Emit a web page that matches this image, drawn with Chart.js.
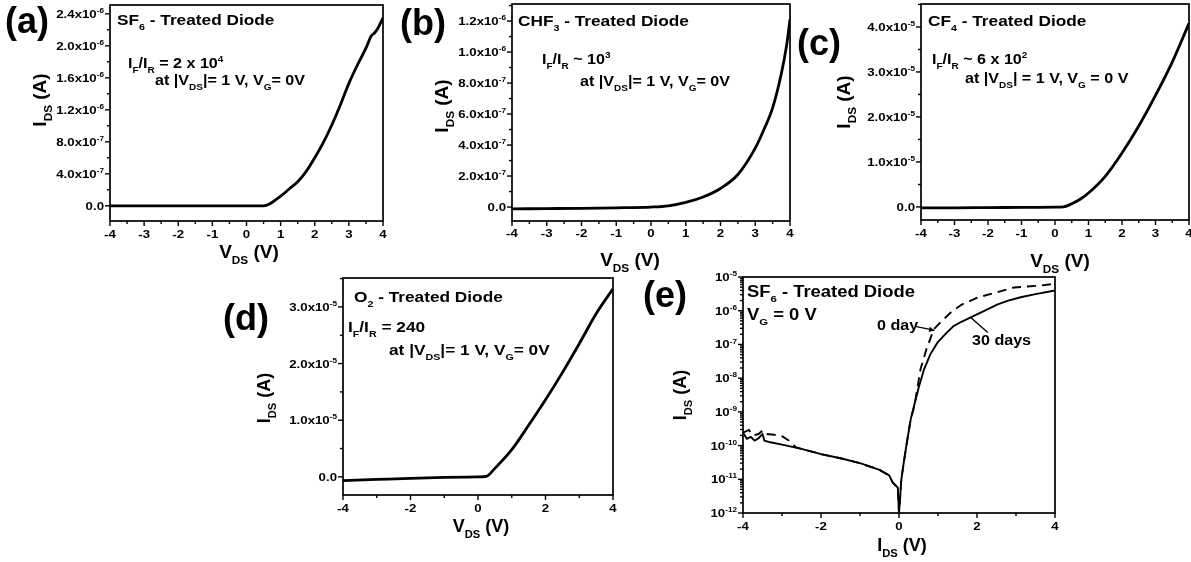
<!DOCTYPE html>
<html>
<head>
<meta charset="utf-8">
<script src="https://cdn.jsdelivr.net/npm/chart.js@4.4.1/dist/chart.umd.min.js"></script>
<style>
  html, body { margin: 0; padding: 0; background: #fff; }
  #fig { position: relative; width: 1191px; height: 562px; overflow: hidden; }
  #fig canvas { position: absolute; left: 0; top: 0; }
</style>
</head>
<body>
<div id="fig">
  <canvas id="panelA" width="1191" height="562"></canvas>
  <canvas id="panelB" width="1191" height="562"></canvas>
  <canvas id="panelC" width="1191" height="562"></canvas>
  <canvas id="panelD" width="1191" height="562"></canvas>
  <canvas id="panelE" width="1191" height="562"></canvas>
</div>
<script>
// (a) SF6 treated diode, linear I-V
const vA = [-4, -3, -2, -1, 0, 0.5, 0.7, 0.9, 1.0, 1.25, 1.5, 1.75, 2.0, 2.25, 2.5, 2.75, 3.0, 3.25, 3.5, 3.65, 3.75, 3.85, 4.0];
const iA = [0, 0, 0, 0, 0, 0, 0.03e-6, 0.09e-6, 0.12e-6, 0.21e-6, 0.30e-6, 0.43e-6, 0.60e-6, 0.79e-6, 1.01e-6, 1.26e-6, 1.53e-6, 1.76e-6, 1.97e-6, 2.12e-6, 2.16e-6, 2.22e-6, 2.35e-6];

// (b) CHF3 treated diode
const vB = [-4, -3, -2, -1, 0, 0.5, 1.0, 1.5, 2.0, 2.5, 3.0, 3.25, 3.5, 3.75, 3.9, 4.0];
const iB = [-0.012e-6, -0.010e-6, -0.008e-6, -0.005e-6, 0, 0.008e-6, 0.03e-6, 0.065e-6, 0.12e-6, 0.21e-6, 0.38e-6, 0.50e-6, 0.64e-6, 0.86e-6, 1.04e-6, 1.21e-6];

// (c) CF4 treated diode
const vC = [-4, -3, -2, -1, 0, 0.25, 0.5, 0.75, 1.0, 1.5, 2.0, 2.5, 3.0, 3.5, 4.0];
const iC = [-0.02e-5, -0.02e-5, -0.015e-5, -0.01e-5, -0.005e-5, 0, 0.07e-5, 0.17e-5, 0.31e-5, 0.68e-5, 1.20e-5, 1.80e-5, 2.48e-5, 3.22e-5, 4.08e-5];

// (d) O2 treated diode
const vD = [-4, -3, -2, -1, 0, 0.25, 0.5, 1.0, 1.5, 2.0, 2.5, 3.0, 3.5, 4.0];
const iD = [-0.065e-5, -0.045e-5, -0.025e-5, -0.01e-5, 0, 0.01e-5, 0.15e-5, 0.48e-5, 0.91e-5, 1.36e-5, 1.84e-5, 2.35e-5, 2.88e-5, 3.32e-5];

// (e) SF6 treated diode, log scale: after 30 days (solid) and fresh (dashed)
const vE30 = [-4.0, -3.9, -3.8, -3.7, -3.6, -3.5, -3.45, -3.3, -3.0, -2.5, -2.0, -1.5, -1.0, -0.5, -0.25, -0.16, -0.03, 0.0, 0.03, 0.06, 0.12, 0.2, 0.3, 0.385, 0.5, 0.64, 0.8, 0.99, 1.2, 1.4, 1.6, 1.84, 2.2, 2.53, 2.8, 3.12, 3.5, 4.0];
const iE30 = [2.4e-10, 1.6e-10, 1.8e-10, 1.4e-10, 1.65e-10, 2.2e-10, 1.4e-10, 1.25e-10, 1.07e-10, 8e-11, 5.6e-11, 4.2e-11, 3.0e-11, 1.9e-11, 1.3e-11, 8e-12, 5.6e-12, 1e-12, 3e-12, 1e-11, 3e-11, 1.2e-10, 6e-10, 1.5e-9, 5e-9, 1.8e-8, 5e-8, 1.15e-7, 2.1e-7, 3.5e-7, 4.7e-7, 6.3e-7, 1.0e-6, 1.55e-6, 2.0e-6, 2.5e-6, 3.1e-6, 4.0e-6];
const vE0 = [-4.0, -3.85, -3.75, -3.6, -3.5, -3.4, -3.2, -3.0, -2.8, -2.65, -2.5, -2.0, -1.5, -1.0, -0.5, -0.25, -0.16, -0.03, 0.0, 0.03, 0.06, 0.12, 0.2, 0.3, 0.4, 0.55, 0.7, 0.89, 1.1, 1.32, 1.6, 2.01, 2.5, 2.95, 3.64, 4.0];
const iE0 = [2.4e-10, 2.9e-10, 2.0e-10, 2.2e-10, 2.8e-10, 2.2e-10, 2.1e-10, 1.9e-10, 1.35e-10, 9e-11, 8e-11, 5.6e-11, 4.2e-11, 3.0e-11, 1.9e-11, 1.3e-11, 8e-12, 5.6e-12, 1e-12, 3e-12, 1e-11, 3e-11, 1.2e-10, 6e-10, 1.6e-9, 1.8e-8, 7e-8, 2.8e-7, 5e-7, 8.7e-7, 1.5e-6, 2.45e-6, 3.5e-6, 4.9e-6, 5.6e-6, 6.3e-6];

// axis ticks
const xTicks8 = [-4, -3, -2, -1, 0, 1, 2, 3, 4];
const xTicks4 = [-4, -2, 0, 2, 4];
const yTicksA = [0, 4e-7, 8e-7, 1.2e-6, 1.6e-6, 2.0e-6, 2.4e-6];
const yTicksB = [0, 2e-7, 4e-7, 6e-7, 8e-7, 1.0e-6, 1.2e-6];
const yTicksC = [0, 1e-5, 2e-5, 3e-5, 4e-5];
const yTicksD = [0, 1e-5, 2e-5, 3e-5];
const yTicksE = [1e-12, 1e-11, 1e-10, 1e-9, 1e-8, 1e-7, 1e-6, 1e-5];

const W = 1191, H = 562;
const INK = '#000';
const FONT = '"Liberation Sans", Arial, sans-serif';
const TICK_SIZE = 11.5;

function zip(xs, ys) {
  return xs.map((x, i) => ({ x: x, y: ys[i] }));
}

// split "I_{F}/I_{R} = 2 x 10^{4}" into plain / sub / sup runs
function richParts(str) {
  const parts = [];
  const re = /([_^])\{([^}]*)\}/g;
  let last = 0, m;
  while ((m = re.exec(str))) {
    if (m.index > last) parts.push({ t: str.slice(last, m.index), k: '' });
    parts.push({ t: m[2], k: m[1] });
    last = re.lastIndex;
  }
  if (last < str.length) parts.push({ t: str.slice(last), k: '' });
  return parts;
}

function drawRich(ctx, str, x, y, o) {
  const size = o.size || 12;
  const stretch = o.stretch || 1;
  const small = size * 0.62;
  const parts = richParts(str);
  let w = 0;
  parts.forEach(p => {
    ctx.font = 'bold ' + (p.k ? small : size) + 'px ' + FONT;
    p.w = ctx.measureText(p.t).width;
    w += p.w;
  });
  w *= stretch;
  ctx.save();
  ctx.translate(x, y);
  if (o.rotate) ctx.rotate(-Math.PI / 2);
  let x0 = o.align === 'right' ? -w : o.align === 'center' ? -w / 2 : 0;
  ctx.translate(x0, 0);
  ctx.scale(stretch, 1);
  ctx.textAlign = 'left';
  ctx.textBaseline = 'alphabetic';
  let cx = 0;
  parts.forEach(p => {
    ctx.font = 'bold ' + (p.k ? small : size) + 'px ' + FONT;
    const dy = p.k === '_' ? size * 0.34 : p.k === '^' ? -size * 0.42 : 0;
    ctx.fillText(p.t, cx, dy);
    cx += p.w;
  });
  ctx.restore();
}

function sciLabel(v) {
  if (v === 0) return '0.0';
  const e = Math.floor(Math.log10(Math.abs(v)) + 1e-9);
  const m = v / Math.pow(10, e);
  return m.toFixed(1) + 'x10^{' + e + '}';
}

function decadeLabel(v) {
  return '10^{' + Math.round(Math.log10(v)) + '}';
}

// halfway ticks between major ones, kept inside the axis range
function midTicks(major, min, max) {
  const step = major[1] - major[0];
  const out = [];
  for (let i = -1; i < major.length; i++) {
    const v = major[0] + (i + 0.5) * step;
    if (v >= min && v <= max) out.push(v);
  }
  return out;
}

function logMinor(major) {
  const out = [];
  for (let i = 0; i < major.length - 1; i++) {
    for (let k = 2; k <= 9; k++) out.push(major[i] * k);
  }
  return out;
}

function line(ctx, x1, y1, x2, y2) {
  ctx.beginPath();
  ctx.moveTo(x1, y1);
  ctx.lineTo(x2, y2);
  ctx.stroke();
}

// frame, ticks, tick labels, titles and notes for one panel
function decoPlugin(p) {
  return {
    id: 'panelDeco',
    afterDatasetsDraw(chart) {
      const ctx = chart.ctx;
      const a = chart.chartArea;
      const xs = chart.scales.x, ys = chart.scales.y;
      ctx.save();
      ctx.fillStyle = INK;
      ctx.strokeStyle = INK;

      ctx.lineWidth = 1.4;
      p.xMajor.forEach(v => {
        const px = xs.getPixelForValue(v);
        line(ctx, px, a.bottom, px, a.bottom + 5);
        drawRich(ctx, String(v), px, p.xLabelY, { size: TICK_SIZE, align: 'center', stretch: 1.15 });
      });
      p.xMinor.forEach(v => {
        const px = xs.getPixelForValue(v);
        line(ctx, px, a.bottom, px, a.bottom + 3);
      });
      p.yMajor.forEach(v => {
        const py = ys.getPixelForValue(v);
        line(ctx, a.left - 5, py, a.left, py);
        drawRich(ctx, p.yFormat(v), a.left - 6, py + 4, { size: TICK_SIZE, align: 'right', stretch: 1.15 });
      });
      p.yMinor.forEach(v => {
        const py = ys.getPixelForValue(v);
        if (py < a.top || py > a.bottom) return;
        line(ctx, a.left - 3, py, a.left, py);
      });

      ctx.lineWidth = 1.7;
      ctx.strokeRect(a.left, a.top, a.right - a.left, a.bottom - a.top);

      drawRich(ctx, p.xTitle, p.xTitleAt[0], p.xTitleAt[1], { size: p.titleSize, align: 'center' });
      drawRich(ctx, p.yTitle, p.yTitleAt[0], p.yTitleAt[1], { size: p.titleSize, align: 'center', rotate: true });
      drawRich(ctx, p.letter, p.letterAt[0], p.letterAt[1], { size: 36 });

      p.notes.forEach(n => drawRich(ctx, n.text, n.x, n.y, { size: n.size, stretch: 1.15 }));

      (p.pointers || []).forEach(q => {
        const tx = xs.getPixelForValue(q.at[0]);
        const ty = ys.getPixelForValue(q.at[1]);
        const fx = tx + q.from[0], fy = ty + q.from[1];
        ctx.lineWidth = 1.4;
        line(ctx, fx, fy, tx, ty);
        if (q.head) {
          const ang = Math.atan2(ty - fy, tx - fx);
          ctx.beginPath();
          ctx.moveTo(tx, ty);
          ctx.lineTo(tx - 6 * Math.cos(ang - 0.45), ty - 6 * Math.sin(ang - 0.45));
          ctx.lineTo(tx - 6 * Math.cos(ang + 0.45), ty - 6 * Math.sin(ang + 0.45));
          ctx.closePath();
          ctx.fill();
        }
      });
      ctx.restore();
    }
  };
}

const panels = [
  {
    canvas: 'panelA', plot: { l: 110, r: 383, t: 5, b: 221 },
    yType: 'linear', yMin: -0.19e-6, yMax: 2.51e-6,
    xMajor: xTicks8, xMinor: midTicks(xTicks8, -4, 4),
    yMajor: yTicksA, yMinor: midTicks(yTicksA, -0.19e-6, 2.51e-6), yFormat: sciLabel,
    xLabelY: 238, titleSize: 19,
    xTitle: 'V_{DS} (V)', xTitleAt: [249, 258], yTitle: 'I_{DS} (A)', yTitleAt: [46, 100],
    letter: '(a)', letterAt: [5, 33],
    notes: [
      { text: 'SF_{6} - Treated Diode', x: 117, y: 25, size: 15 },
      { text: 'I_{F}/I_{R} = 2 x 10^{4}', x: 128, y: 68, size: 14 },
      { text: 'at |V_{DS}|= 1 V, V_{G}= 0V', x: 155, y: 85, size: 14 }
    ],
    series: [{ data: zip(vA, iA) }]
  },
  {
    canvas: 'panelB', plot: { l: 512, r: 790, t: 4, b: 221 },
    yType: 'linear', yMin: -0.09e-6, yMax: 1.31e-6,
    xMajor: xTicks8, xMinor: midTicks(xTicks8, -4, 4),
    yMajor: yTicksB, yMinor: midTicks(yTicksB, -0.09e-6, 1.31e-6), yFormat: sciLabel,
    xLabelY: 237, titleSize: 19,
    xTitle: 'V_{DS} (V)', xTitleAt: [630, 266], yTitle: 'I_{DS} (A)', yTitleAt: [448, 106],
    letter: '(b)', letterAt: [400, 35],
    notes: [
      { text: 'CHF_{3} - Treated Diode', x: 518, y: 26, size: 15 },
      { text: 'I_{F}/I_{R} ~ 10^{3}', x: 542, y: 64, size: 14 },
      { text: 'at |V_{DS}|= 1 V, V_{G}= 0V', x: 580, y: 86, size: 14 }
    ],
    series: [{ data: zip(vB, iB) }]
  },
  {
    canvas: 'panelC', plot: { l: 921, r: 1189, t: 4, b: 220 },
    yType: 'linear', yMin: -0.29e-5, yMax: 4.51e-5,
    xMajor: xTicks8, xMinor: midTicks(xTicks8, -4, 4),
    yMajor: yTicksC, yMinor: midTicks(yTicksC, -0.29e-5, 4.51e-5), yFormat: sciLabel,
    xLabelY: 237, titleSize: 19,
    xTitle: 'V_{DS} (V)', xTitleAt: [1060, 267], yTitle: 'I_{DS} (A)', yTitleAt: [850, 102],
    letter: '(c)', letterAt: [797, 55],
    notes: [
      { text: 'CF_{4} - Treated Diode', x: 928, y: 26, size: 15 },
      { text: 'I_{F}/I_{R} ~ 6 x 10^{2}', x: 932, y: 64, size: 14 },
      { text: 'at |V_{DS}| = 1 V, V_{G} = 0 V', x: 965, y: 83, size: 14 }
    ],
    series: [{ data: zip(vC, iC) }]
  },
  {
    canvas: 'panelD', plot: { l: 343, r: 613, t: 278, b: 495 },
    yType: 'linear', yMin: -0.32e-5, yMax: 3.51e-5,
    xMajor: xTicks4, xMinor: midTicks(xTicks4, -4, 4),
    yMajor: yTicksD, yMinor: midTicks(yTicksD, -0.32e-5, 3.51e-5), yFormat: sciLabel,
    xLabelY: 512, titleSize: 18,
    xTitle: 'V_{DS} (V)', xTitleAt: [481, 532], yTitle: 'I_{DS} (A)', yTitleAt: [270, 398],
    letter: '(d)', letterAt: [223, 330],
    notes: [
      { text: 'O_{2} - Treated Diode', x: 354, y: 302, size: 15 },
      { text: 'I_{F}/I_{R} = 240', x: 348, y: 332, size: 15 },
      { text: 'at |V_{DS}|= 1 V, V_{G}= 0V', x: 389, y: 355, size: 15 }
    ],
    series: [{ data: zip(vD, iD) }]
  },
  {
    canvas: 'panelE', plot: { l: 743, r: 1055, t: 277, b: 513 },
    yType: 'logarithmic', yMin: 1e-12, yMax: 1e-5,
    xMajor: xTicks4, xMinor: midTicks(xTicks4, -4, 4),
    yMajor: yTicksE, yMinor: logMinor(yTicksE), yFormat: decadeLabel,
    xLabelY: 530, titleSize: 18,
    xTitle: 'I_{DS} (V)', xTitleAt: [902, 551], yTitle: 'I_{DS} (A)', yTitleAt: [686, 395],
    letter: '(e)', letterAt: [643, 307],
    notes: [
      { text: 'SF_{6} - Treated Diode', x: 747, y: 297, size: 16 },
      { text: 'V_{G} = 0 V', x: 747, y: 320, size: 16 },
      { text: '0 day', x: 877, y: 330, size: 14 },
      { text: '30 days', x: 972, y: 345, size: 14 }
    ],
    pointers: [
      { at: [0.91, 2.6e-7], from: [-19, -4], head: true },
      { at: [1.84, 6.3e-7], from: [17, 15], head: false }
    ],
    series: [
      { data: zip(vE30, iE30), width: 1.9 },
      { data: zip(vE0, iE0), width: 1.9, dash: [9, 6] }
    ]
  }
];

panels.forEach(p => {
  const ctx = document.getElementById(p.canvas).getContext('2d');
  const smooth = p.yType === 'linear';
  new Chart(ctx, {
    type: 'line',
    data: {
      datasets: p.series.map(s => ({
        data: s.data,
        borderColor: INK,
        borderWidth: s.width || 2.8,
        borderDash: s.dash || [],
        pointRadius: 0,
        fill: false,
        cubicInterpolationMode: smooth ? 'monotone' : 'default',
        tension: 0
      }))
    },
    options: {
      responsive: false,
      animation: false,
      events: [],
      layout: { padding: { left: p.plot.l, top: p.plot.t, right: W - p.plot.r, bottom: H - p.plot.b } },
      plugins: { legend: { display: false }, tooltip: { enabled: false } },
      scales: {
        x: { type: 'linear', display: false, min: -4, max: 4 },
        y: { type: p.yType, display: false, min: p.yMin, max: p.yMax }
      }
    },
    plugins: [decoPlugin(p)]
  });
});
</script>
</body>
</html>
